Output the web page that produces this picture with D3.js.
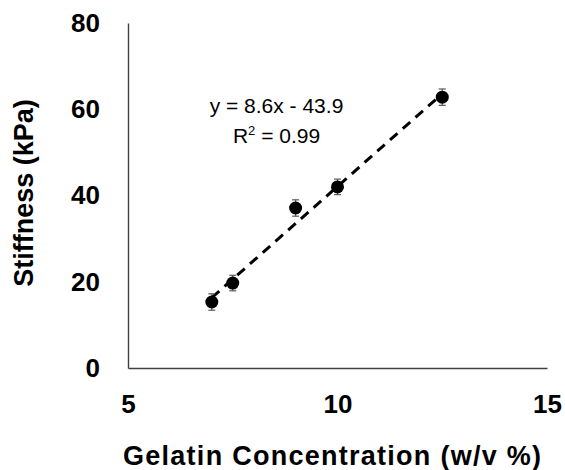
<!DOCTYPE html>
<html>
<head>
<meta charset="utf-8">
<script src="https://cdn.jsdelivr.net/npm/d3@7"></script>
<style>
  html, body { margin: 0; padding: 0; background: #fff; }
  svg { display: block; }
</style>
</head>
<body>
<svg id="chart" width="565" height="470"></svg>
<script>
// Gelatin concentration (w/v %) against measured stiffness (kPa)
const concentration = [7, 7.5, 9, 10, 12.5];
const stiffness = [15.3, 19.7, 37.1, 42.0, 62.8];
const stiffnessErr = [1.9, 1.8, 1.9, 1.8, 1.9];

// Linear fit reported on the chart
const fitSlope = 8.6;
const fitIntercept = -43.9;
const fitRange = [7, 12.5];

const xTicks = [5, 10, 15];
const yTicks = [0, 20, 40, 60, 80];

const svg = d3.select("#chart");
const margin = { left: 128, right: 18, top: 23, bottom: 102 };
const W = 565, H = 470;

const x = d3.scaleLinear().domain([5, 15]).range([margin.left, W - margin.right]);
const y = d3.scaleLinear().domain([0, 80]).range([H - margin.bottom, margin.top]);

const boldFont = "'Liberation Sans', Arial, sans-serif";

// Axes: plain lines with bold tick labels, no tick marks
const xAxis = svg.append("g")
  .attr("transform", `translate(0,${y(0)})`)
  .call(d3.axisBottom(x).tickValues(xTicks).tickSize(0).tickPadding(27).tickFormat(d3.format("d")));
const yAxis = svg.append("g")
  .attr("transform", `translate(${x(5)},0)`)
  .call(d3.axisLeft(y).tickValues(yTicks).tickSize(0).tickPadding(28).tickFormat(d3.format("d")));

[xAxis, yAxis].forEach(g => {
  g.select(".domain").attr("stroke", "#404040").attr("stroke-width", 1.4);
  g.selectAll("text")
    .attr("font-family", boldFont)
    .attr("font-weight", "bold")
    .attr("font-size", 26)
    .attr("fill", "#000");
});

// Trend line
const fitLine = d3.line()
  .x(d => x(d))
  .y(d => y(fitSlope * d + fitIntercept));
svg.append("path")
  .datum(fitRange)
  .attr("d", fitLine)
  .attr("fill", "none")
  .attr("stroke", "#000")
  .attr("stroke-width", 3)
  .attr("stroke-dasharray", "10,7");

// Error bars
const pts = concentration.map((c, i) => ({ c, s: stiffness[i], e: stiffnessErr[i] }));
const eb = svg.append("g").attr("stroke", "#595959").attr("stroke-width", 1.2);
pts.forEach(p => {
  eb.append("line")
    .attr("x1", x(p.c)).attr("x2", x(p.c))
    .attr("y1", y(p.s - p.e)).attr("y2", y(p.s + p.e));
  [p.s - p.e, p.s + p.e].forEach(v => {
    eb.append("line")
      .attr("x1", x(p.c) - 3.5).attr("x2", x(p.c) + 3.5)
      .attr("y1", y(v)).attr("y2", y(v));
  });
});

// Data points
svg.append("g").selectAll("circle")
  .data(pts)
  .join("circle")
  .attr("cx", d => x(d.c))
  .attr("cy", d => y(d.s))
  .attr("r", 6.5)
  .attr("fill", "#000");

// Fit equation
const eqFont = "'Liberation Sans', Arial, sans-serif";
svg.append("text")
  .attr("x", 276.5).attr("y", 113)
  .attr("text-anchor", "middle")
  .attr("font-family", eqFont)
  .attr("font-size", 21)
  .attr("fill", "#000")
  .text(`y = ${fitSlope}x - ${Math.abs(fitIntercept)}`);
const r2 = svg.append("text")
  .attr("x", 276.5).attr("y", 143)
  .attr("text-anchor", "middle")
  .attr("font-family", eqFont)
  .attr("font-size", 21)
  .attr("fill", "#000");
r2.append("tspan").text("R");
r2.append("tspan").attr("dy", -8).attr("font-size", 13).text("2");
r2.append("tspan").attr("dy", 8).text(" = 0.99");

// Axis titles
svg.append("text")
  .attr("x", 332).attr("y", 465)
  .attr("text-anchor", "middle")
  .attr("font-family", boldFont)
  .attr("font-weight", "bold")
  .attr("font-size", 27)
  .attr("textLength", 418)
  .attr("lengthAdjust", "spacing")
  .attr("fill", "#000")
  .text("Gelatin Concentration (w/v %)");

svg.append("text")
  .attr("transform", `translate(33,193) rotate(-90)`)
  .attr("text-anchor", "middle")
  .attr("font-family", boldFont)
  .attr("font-weight", "bold")
  .attr("font-size", 27)
  .attr("fill", "#000")
  .text("Stiffness (kPa)");
</script>
</body>
</html>
